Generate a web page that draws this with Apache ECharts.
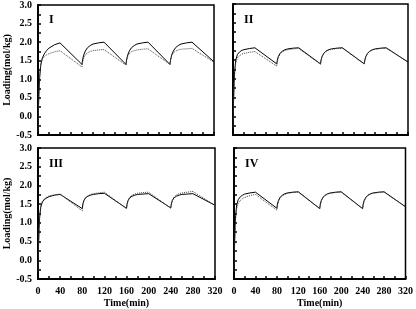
<!DOCTYPE html>
<html>
<head>
<meta charset="utf-8">
<script src="https://cdn.jsdelivr.net/npm/echarts@6/dist/echarts.min.js"></script>
<style>
  html, body { margin: 0; padding: 0; background: #fff; }
  #chart { width: 416px; height: 309px; }
</style>
</head>
<body>
<div id="chart"></div>
<script>
// time points (min), shared by all panels
const time = [0, 1, 2, 3, 5, 8, 12, 16, 20, 30, 40, 80,
  81, 83, 86, 90, 95, 100, 110, 120, 160,
  161, 163, 166, 170, 175, 180, 190, 200, 240,
  241, 243, 246, 250, 255, 260, 270, 280, 320];

// panel I
const solidI = [-0.4, 0.3, 0.75, 1.05, 1.38, 1.58, 1.7, 1.78, 1.84, 1.93, 1.98, 1.40,
  1.52, 1.65, 1.76, 1.85, 1.91, 1.95, 1.98, 2.00, 1.40,
  1.52, 1.65, 1.76, 1.85, 1.91, 1.95, 1.98, 2.00, 1.40,
  1.52, 1.65, 1.76, 1.85, 1.91, 1.95, 1.98, 2.00, 1.47];
const dotI = [-0.4, 0.35, 0.8, 1.1, 1.4, 1.55, 1.62, 1.66, 1.69, 1.74, 1.77, 1.33,
  1.45, 1.57, 1.66, 1.71, 1.75, 1.77, 1.79, 1.80, 1.38,
  1.50, 1.61, 1.69, 1.74, 1.77, 1.79, 1.81, 1.82, 1.40,
  1.52, 1.63, 1.71, 1.76, 1.79, 1.81, 1.82, 1.83, 1.46];

// panel II
const solidII = [-0.3, 0.4, 0.9, 1.2, 1.5, 1.65, 1.72, 1.76, 1.78, 1.81, 1.83, 1.40,
  1.50, 1.60, 1.68, 1.74, 1.78, 1.80, 1.82, 1.83, 1.40,
  1.50, 1.60, 1.68, 1.74, 1.78, 1.80, 1.82, 1.83, 1.40,
  1.50, 1.60, 1.68, 1.74, 1.78, 1.80, 1.82, 1.83, 1.45];
const dotII = [-0.3, 0.4, 0.85, 1.15, 1.42, 1.56, 1.62, 1.66, 1.68, 1.71, 1.73, 1.34,
  1.46, 1.57, 1.66, 1.72, 1.76, 1.78, 1.80, 1.81, 1.39,
  1.50, 1.60, 1.68, 1.74, 1.77, 1.79, 1.81, 1.82, 1.40,
  1.50, 1.60, 1.68, 1.74, 1.77, 1.79, 1.81, 1.82, 1.45];

// panel III
const solidIII = [-0.3, 0.4, 0.85, 1.15, 1.42, 1.56, 1.63, 1.67, 1.70, 1.74, 1.76, 1.38,
  1.50, 1.60, 1.67, 1.71, 1.74, 1.76, 1.78, 1.79, 1.39,
  1.50, 1.60, 1.67, 1.71, 1.74, 1.76, 1.77, 1.78, 1.40,
  1.50, 1.60, 1.67, 1.71, 1.74, 1.76, 1.77, 1.78, 1.47];
const dotIII = [-0.3, 0.45, 0.9, 1.2, 1.45, 1.58, 1.65, 1.69, 1.72, 1.75, 1.77, 1.32,
  1.45, 1.58, 1.67, 1.72, 1.76, 1.78, 1.80, 1.82, 1.38,
  1.50, 1.61, 1.69, 1.74, 1.77, 1.79, 1.81, 1.82, 1.39,
  1.50, 1.61, 1.69, 1.74, 1.78, 1.80, 1.82, 1.84, 1.47];

// panel IV
const solidIV = [-0.3, 0.4, 0.9, 1.2, 1.48, 1.62, 1.70, 1.74, 1.77, 1.80, 1.82, 1.39,
  1.50, 1.60, 1.68, 1.74, 1.78, 1.80, 1.82, 1.83, 1.38,
  1.50, 1.60, 1.68, 1.74, 1.78, 1.80, 1.82, 1.83, 1.38,
  1.50, 1.60, 1.68, 1.74, 1.78, 1.80, 1.82, 1.83, 1.43];
const dotIV = [-0.3, 0.35, 0.8, 1.1, 1.38, 1.52, 1.60, 1.65, 1.68, 1.73, 1.76, 1.34,
  1.46, 1.57, 1.66, 1.72, 1.76, 1.79, 1.81, 1.82, 1.38,
  1.48, 1.59, 1.67, 1.73, 1.77, 1.79, 1.81, 1.82, 1.38,
  1.48, 1.59, 1.67, 1.73, 1.77, 1.79, 1.81, 1.82, 1.43];

const panelNames = ['I', 'II', 'III', 'IV'];
const solids = [solidI, solidII, solidIII, solidIV];
const dots = [dotI, dotII, dotIII, dotIV];

const font = 'Liberation Serif';
const grids = [
  {left: 38, top: 4, width: 176, height: 131},
  {left: 233, top: 4, width: 175, height: 131},
  {left: 38, top: 148, width: 177, height: 131},
  {left: 234, top: 148, width: 177, height: 131}
];

const pair = (ys) => time.map((t, i) => [t, ys[i]]);

const option = {
  animation: false,
  backgroundColor: '#fff',
  textStyle: {fontFamily: font},
  title: grids.map((g, i) => ({
    text: panelNames[i],
    left: g.left + 6,
    top: g.top + 5,
    textStyle: {fontFamily: font, fontWeight: 'bold', fontSize: 12, color: '#000'}
  })),
  grid: grids.map(g => ({
    ...g,
    show: true,
    borderColor: '#000',
    borderWidth: 1.5,
    containLabel: false
  })),
  xAxis: grids.map((g, i) => ({
    type: 'value',
    gridIndex: i,
    min: 0, max: 320, interval: 40,
    name: i >= 2 ? 'Time(min)' : '',
    nameLocation: 'middle',
    nameGap: 19,
    nameTextStyle: {fontFamily: font, fontWeight: 'bold', fontSize: 10, color: '#000'},
    axisLine: {show: true, onZero: false, lineStyle: {color: '#000', width: 2}},
    axisTick: {show: true, inside: true, length: 3, lineStyle: {color: '#000', width: 1.5}},
    minorTick: {show: true, splitNumber: 2, length: 3, lineStyle: {color: '#000', width: 1.5}},
    axisLabel: {show: i >= 2, margin: 7, fontFamily: font, fontWeight: 'bold', fontSize: 10, color: '#000'},
    splitLine: {show: false}
  })),
  yAxis: grids.map((g, i) => ({
    type: 'value',
    gridIndex: i,
    min: -0.5, max: 3.0, interval: 0.5,
    name: i % 2 === 0 ? 'Loading(mol/kg)' : '',
    nameLocation: 'middle',
    nameGap: 25,
    nameTextStyle: {fontFamily: font, fontWeight: 'bold', fontSize: 10, color: '#000'},
    axisLine: {show: true, lineStyle: {color: '#000', width: 2}},
    axisTick: {show: true, inside: true, length: 3, lineStyle: {color: '#000', width: 1.5}},
    minorTick: {show: true, splitNumber: 2, length: 3, lineStyle: {color: '#000', width: 1.5}},
    axisLabel: {
      show: i % 2 === 0, margin: 6,
      fontFamily: font, fontWeight: 'bold', fontSize: 10, color: '#000',
      formatter: v => v.toFixed(1)
    },
    splitLine: {show: false}
  })),
  series: []
};

for (let i = 0; i < 4; i++) {
  option.series.push({
    type: 'line', xAxisIndex: i, yAxisIndex: i,
    data: pair(solids[i]), showSymbol: false, symbol: 'none',
    lineStyle: {color: '#000', width: 1}
  });
  option.series.push({
    type: 'line', xAxisIndex: i, yAxisIndex: i,
    data: pair(dots[i]), showSymbol: false, symbol: 'none',
    lineStyle: {color: '#444', width: 1, type: 'dotted'}
  });
}

const myChart = echarts.init(document.getElementById('chart'), null, {renderer: 'canvas'});
myChart.setOption(option);
</script>
</body>
</html>
